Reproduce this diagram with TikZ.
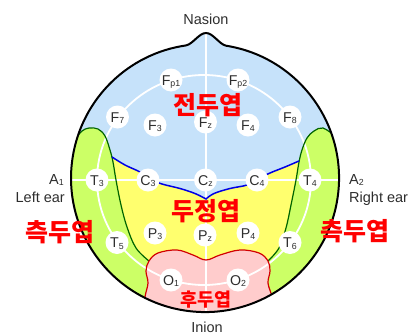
\documentclass[tikz,border=0pt]{standalone}
\usepackage{fontspec}
\setmainfont{Liberation Sans}
\newfontfamily\kr{Noto Sans CJK KR}
\definecolor{lobeblue}{RGB}{198,226,250}
\definecolor{lobegreen}{RGB}{204,255,102}
\definecolor{lobeyellow}{RGB}{255,255,110}
\definecolor{lobepink}{RGB}{255,204,204}
\definecolor{gborder}{RGB}{0,100,0}
\definecolor{pborder}{RGB}{210,0,0}
\definecolor{bborder}{RGB}{0,0,230}
\definecolor{labelgray}{RGB}{45,45,45}
\newcommand\sub[1]{\raisebox{-1.8pt}{\fontsize{8.8}{8.8}\selectfont #1}}
\tikzset{
  elec/.style={circle, fill=white, minimum size=23pt, inner sep=0pt, text=labelgray,
    font=\fontsize{14.2}{14.2}\selectfont, text height=10pt, text depth=0pt},
  txt/.style={inner sep=0pt, text=labelgray, font=\fontsize{14.5}{14.5}\selectfont},
  lobe/.style={inner sep=0pt, text=red, font=\kr\bfseries\fontsize{25}{25}\selectfont},
  wline/.style={white, line width=1.8pt},
  gline/.style={gborder, line width=1.2pt},
  bline/.style={bborder, line width=1.5pt},
  pline/.style={pborder, line width=1.2pt},
  headline/.style={black, line width=2pt}
}
\begin{document}
\begin{tikzpicture}[x=1pt,y=-1pt]
\useasboundingbox (0,0) rectangle (413,335);
\begin{scope}
\clip (226,45.7) arc[start angle=-81,end angle=261.85,radius=134]
  .. controls (193,44) and (199,33) .. (206,33) .. controls (213,33) and (219,44) .. (226,45.7) -- cycle;
\fill[lobeblue] (0,0) rectangle (413,335);
% parietal (yellow)
\fill[lobeyellow] plot[smooth,tension=0.6] coordinates {(112,157) (125,165) (140,172) (150,179) (162,184) (180,188.5) (195,193.5) (206,199)}
  -- plot[smooth,tension=0.6] coordinates {(206,199) (214,193.5) (230,188.5) (247,185) (258,179) (270,173) (285,167) (299,161)}
  -- (320,161) -- (320,263) -- (90,263) -- (90,157) -- cycle;
% temporal (green)
\fill[lobegreen] (10,138) -- plot[smooth,tension=0.6] coordinates {(76,138) (82,131) (89,128) (98,129) (105,136) (110,150) (113,162) (116,180) (121,205) (127,227) (136,248) (149,261)}
  -- plot[smooth,tension=0.6] coordinates {(268,261) (279,248) (286,228) (291,205) (296,180) (299,162) (302,150) (307,138) (314,131) (323,128) (335,136)}
  -- (400,136) -- (400,340) -- (10,340) -- cycle;
% occipital (pink)
\fill[lobepink] plot[smooth,tension=0.6] coordinates {(143,318) (145,297) (148,283) (146,271) (149,261) (158,253) (177,250) (193,255) (206,260) (220,255) (240,250) (259,253) (268,261) (270,271) (268,283) (272,297) (275,318)}
  -- (275,340) -- (143,340) -- cycle;
% white guide lines
\draw[wline] (60,180) -- (350,180);
\draw[wline] (206,30) -- (206,320);
\draw[wline] (204,180) ellipse[x radius=107, y radius=105];
% borders
\draw[gline] plot[smooth,tension=0.6] coordinates {(76,138) (82,131) (89,128) (98,129) (105,136) (110,150) (113,162) (116,180) (121,205) (127,227) (136,248) (149,261)};
\draw[gline] plot[smooth,tension=0.6] coordinates {(268,261) (279,248) (286,228) (291,205) (296,180) (299,162) (302,150) (307,138) (314,131) (323,128) (335,136)};
\draw[bline] plot[smooth,tension=0.6] coordinates {(112,157) (125,165) (140,172) (150,179) (162,184) (180,188.5) (195,193.5) (206,199)}
  -- plot[smooth,tension=0.6] coordinates {(206,199) (214,193.5) (230,188.5) (247,185) (258,179) (270,173) (285,167) (299,161)};
\draw[pline] plot[smooth,tension=0.6] coordinates {(143,318) (145,297) (148,283) (146,271) (149,261) (158,253) (177,250) (193,255) (206,260) (220,255) (240,250) (259,253) (268,261) (270,271) (268,283) (272,297) (275,318)};
\end{scope}
% head outline
\draw[headline] (226,45.7) arc[start angle=-81,end angle=261.85,radius=134]
  .. controls (193,44) and (199,33) .. (206,33) .. controls (213,33) and (219,44) .. (226,45.7) -- cycle;
% electrodes
\node[elec] (Fp1) at (171,80) {F\sub{p1}};
\node[elec] (Fp2) at (238,80) {F\sub{p2}};
\node[elec] (F7) at (117.5,117) {F\sub{7}};
\node[elec] (F8) at (290,117) {F\sub{8}};
\node[elec] (F3) at (155,125) {F\sub{3}};
\node[elec] (Fz) at (205.5,122) {F\sub{z}};
\node[elec] (F4) at (248,125) {F\sub{4}};
\node[elec] (T3) at (97,180) {T\sub{3}};
\node[elec] (C3) at (148,180) {C\sub{3}};
\node[elec] (Cz) at (205.5,180) {C\sub{z}};
\node[elec] (C4) at (257,180) {C\sub{4}};
\node[elec] (T4) at (310,180) {T\sub{4}};
\node[elec] (T5) at (117,242.5) {T\sub{5}};
\node[elec] (P3) at (155,233) {P\sub{3}};
\node[elec] (Pz) at (205,235) {P\sub{z}};
\node[elec] (P4) at (248,233) {P\sub{4}};
\node[elec] (T6) at (290,242.5) {T\sub{6}};
\node[elec] (O1) at (171,280) {O\sub{1}};
\node[elec] (O2) at (238,280) {O\sub{2}};
% texts
\node[txt, anchor=base] (nasion) at (206,24) {Nasion};
\node[txt, anchor=base] (inion) at (207,332) {Inion};
\node[txt, anchor=base east] (a1) at (64,184) {A\sub{1}};
\node[txt, anchor=base east] (lear) at (65,202) {Left ear};
\node[txt, anchor=base west] (a2) at (349,184) {A\sub{2}};
\node[txt, anchor=base west] (rear) at (349,202) {Right ear};
% lobe names
\node[lobe] (frontal) at (208,105) {전두엽};
\node[lobe] (parietal) at (206,211) {두정엽};
\node[lobe] (templ) at (60,232) {측두엽};
\node[lobe] (tempr) at (355,231) {측두엽};
\node[lobe, font=\kr\bfseries\fontsize{18.5}{18.5}\selectfont] (occip) at (206,300) {후두엽};
\end{tikzpicture}
\end{document}
